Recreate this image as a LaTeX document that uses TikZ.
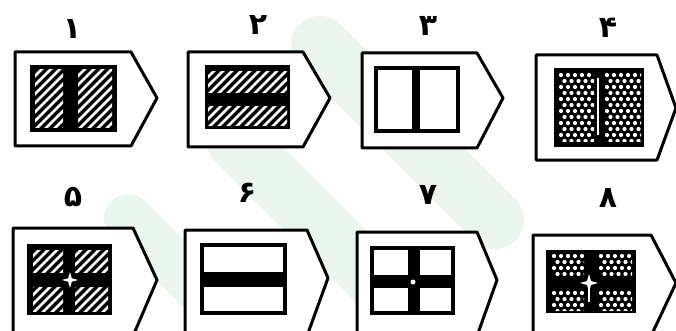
\documentclass[tikz,border=0pt]{standalone}
\usepackage{fontspec}
\newfontfamily\digitfont{DejaVu Sans}
\definecolor{wm}{RGB}{234,245,238}
\tikzset{
  outline/.style={line width=3pt, line join=round},
  innerframe/.style={line width=4pt},
  lbl/.style={font=\digitfont\bfseries\fontsize{30}{30}\selectfont, inner sep=0pt},
  band/.style={wm, line width=58pt, line cap=round}
}
% tag outline: x1 y1 xc xt ym y2
\newcommand{\tagshape}[6]{%
  \draw[outline, fill=white] (#1,#2) -- (#3,#2) -- (#4,#5) -- (#3,#6) -- (#1,#6) -- cycle;}
% hatch region: x1 y1 x2 y2
\newcommand{\hatchbox}[4]{%
  \begin{scope}
    \clip (#1,#2) rectangle (#3,#4);
    \foreach \i in {-81,-72,...,100} {
      \draw[white, line width=2.6pt] ({#1+\i},{#4+2}) -- ++(90,-90);
    }
  \end{scope}}
% dotted region: x1 y1 x2 y2
\newcommand{\dotbox}[4]{%
  \begin{scope}
    \clip (#1,#2) rectangle (#3,#4);
    \foreach \r in {0,...,13} {
      \foreach \c in {0,...,6} {
        \pgfmathsetmacro{\xx}{#1+3+\c*7+mod(\r,2)*3.5}
        \pgfmathsetmacro{\yy}{#2+3+\r*6}
        \fill[white] (\xx,\yy) circle (2.1);
      }
    }
  \end{scope}}
% four point star: cx cy r
\newcommand{\fourstar}[3]{%
  \fill[white] (#1,{#2-#3}) -- ({#1+0.22*#3},{#2-0.22*#3}) -- ({#1+#3},#2) -- ({#1+0.22*#3},{#2+0.22*#3})
   -- (#1,{#2+#3}) -- ({#1-0.22*#3},{#2+0.22*#3}) -- ({#1-#3},#2) -- ({#1-0.22*#3},{#2-0.22*#3}) -- cycle;}
\begin{document}
\begin{tikzpicture}[x=1pt,y=-1pt]
\useasboundingbox (0,0) rectangle (676,331);
\fill[white] (0,0) rectangle (676,331);
% watermark bands
\begin{scope}
\clip (0,0) rectangle (676,331);
\draw[band] (320,45) -- (495,220);
\draw[band] (235,140) -- (440,345);
\draw[band, line width=48pt] (128,218) -- (245,335);
\end{scope}

% labels
\node[lbl] (l1) at (72,29) {۱};
\node[lbl] (l2) at (258,25) {۲};
\node[lbl] (l3) at (428,26) {۳};
\node[lbl] (l4) at (608,28) {۴};
\node[lbl] (l5) at (73,197) {۵};
\node[lbl] (l6) at (247,193) {۶};
\node[lbl] (l7) at (428,195) {۷};
\node[lbl] (l8) at (608,198) {۸};

% panel 1
\tagshape{15}{52}{131}{157}{98}{146}
\fill[black] (30,65) rectangle (117,132);
\hatchbox{35}{70}{63}{128}
\hatchbox{78}{70}{112}{128}

% panel 2
\tagshape{188}{52}{303}{330}{98}{147}
\fill[black] (205,65) rectangle (290,129);
\hatchbox{208}{72}{287}{93}
\hatchbox{208}{107}{287}{126}

% panel 3
\tagshape{362}{53}{477}{503}{98}{148}
\draw[innerframe] (376,68) rectangle (458,131);
\fill[black] (412,68) rectangle (420,131);

% panel 4
\tagshape{536}{55}{657}{676}{108}{160}
\fill[black] (554,68) rectangle (644,147);
\dotbox{558}{72}{594}{142}
\dotbox{604}{72}{641}{142}
\fill[white] (596.5,78) rectangle (599,135);

% panel 5
\tagshape{13}{228}{133}{157}{280}{336}
\fill[black] (27,244) rectangle (112,315);
\hatchbox{33}{250}{63}{272}
\hatchbox{75}{250}{108}{272}
\hatchbox{33}{287}{63}{311}
\hatchbox{75}{287}{108}{311}
\fourstar{70}{280}{8}

% panel 6
\tagshape{185}{230}{307}{328}{278}{336}
\draw[innerframe] (202,245) rectangle (285,313);
\fill[black] (202,272) rectangle (285,287);

% panel 7
\tagshape{357}{232}{477}{497}{280}{336}
\draw[innerframe] (372,248) rectangle (453,313);
\fill[black] (408,248) rectangle (420,313);
\fill[black] (372,275) rectangle (453,288);
\fill[white] (413,282) circle (2.5);

% panel 8
\tagshape{533}{235}{651}{676}{283}{336}
\fill[black] (546,250) rectangle (636,313);
\dotbox{551}{253}{584}{276}
\dotbox{598}{253}{632}{276}
\dotbox{551}{290}{584}{310}
\dotbox{598}{290}{632}{310}
\fourstar{589}{283}{9}
\fill[white] (588.2,283) rectangle (589.8,302);
\end{tikzpicture}
\end{document}
